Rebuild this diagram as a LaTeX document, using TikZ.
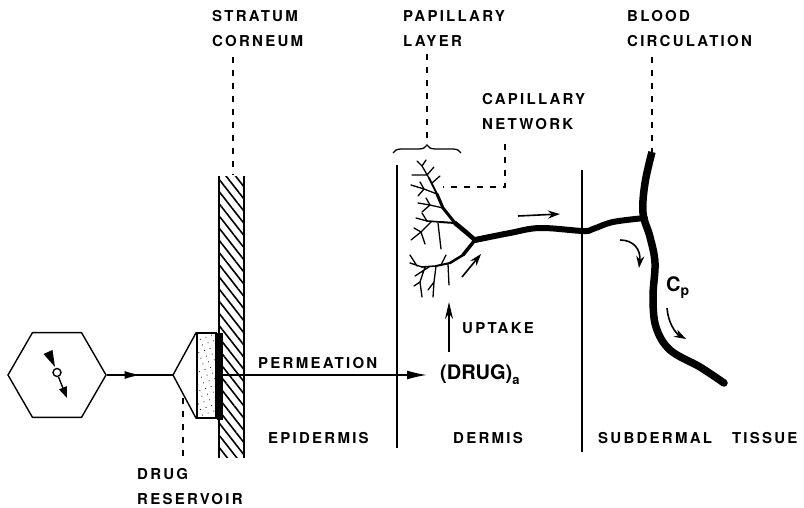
\documentclass[tikz,border=0pt]{standalone}
\usepackage{fontspec}
\setmainfont{TeX Gyre Heros}
\newfontfamily\capsfont{TeX Gyre Heros}[LetterSpace=15]
\usetikzlibrary{arrows.meta, positioning, shapes.geometric,
  decorations.pathreplacing, decorations.markings, patterns.meta}
\tikzset{
  lbl/.style={font=\capsfont\bfseries\fontsize{15}{25}\selectfont,
              inner sep=0pt, align=left},
  leader/.style={line width=1.3pt, dash pattern=on 6pt off 7pt},
  layer/.style={line width=2pt},
  vessel/.style={line width=6pt, line join=round},
  twig/.style={line width=1.3pt, line cap=round, line join=round},
  flow/.style={-{Stealth[length=12pt, width=8pt]}, line width=1.6pt},
}

\begin{document}
\begin{tikzpicture}[x=1pt, y=-1pt]
  \useasboundingbox (0,0) rectangle (804,508);

  % pump, reservoir and stratum corneum
  \node[regular polygon, regular polygon sides=6, draw, line width=1.4pt,
        minimum size=98pt, inner sep=0pt] (pump) at (57,375) {};
  \fill (43.5,354) -- (52.5,350) -- (55,367) -- cycle;
  \draw[line width=1.4pt, -{Triangle[length=11pt, width=8pt]}] (58.5,377) -- (67,398);
  \draw[line width=1.4pt, fill=white] (57,372.5) circle (4pt);

  \coordinate (tip) at (173,375);
  \node[minimum width=23pt, minimum height=280pt, inner sep=0pt,
        pattern={Lines[angle=-52, distance=7.5pt, line width=1.6pt]}] (sc) at (231.5,317) {};
  \draw[layer] (sc.north west) -- (sc.south west);
  \draw[layer] (sc.north east) -- (sc.south east);
  \node[draw, line width=1.4pt, pattern={Dots[distance=6pt, radius=0.55pt, angle=20]},
        minimum width=19pt, minimum height=85pt, inner sep=0pt] (res) at (206.5,375.5) {};
  \node[fill, minimum width=6pt, minimum height=87pt, inner sep=0pt,
        anchor=north west] (band) at (res.north east) {};
  \draw[line width=1.4pt] (res.north west) -- (tip) -- (res.south west);
  \draw[line width=1.4pt, postaction={decorate}, decoration={markings,
        mark=at position 0.51 with {\arrow{Latex[length=16pt, width=8pt]}}}] (pump.east) -- (tip);

  % layer boundaries
  \draw[layer] (397,165) -- (397,448);
  \draw[layer] (582,170) -- (582,452);

  % labels
  \node[lbl, anchor=north west] (stratum) at (212,10) {STRATUM\\CORNEUM};
  \node[lbl, anchor=north west] (papillary) at (403,10) {PAPILLARY\\LAYER};
  \node[lbl, anchor=north west] (capnet) at (482,93) {CAPILLARY\\NETWORK};
  \node[lbl, anchor=north west] (blood) at (627,10) {BLOOD\\CIRCULATION};
  \node[lbl, anchor=north west] (reservoir) at (137,468) {DRUG\\RESERVOIR};
  \node[lbl, anchor=west] (permeation) at (258,363) {PERMEATION};
  \node[lbl, anchor=west] (epidermis) at (268,438) {EPIDERMIS};
  \node[lbl, anchor=west] (dermis) at (453,438) {DERMIS};
  \node[lbl, anchor=west] (subdermal) at (598,438) {SUBDERMAL\hspace{20pt}TISSUE};
  \node[lbl, anchor=west] (uptake) at (462,328) {UPTAKE};
  \node[font=\bfseries\fontsize{20}{24}\selectfont, inner sep=0pt, anchor=west] (drug)
    at (440,375) {(DRUG)\raisebox{-5pt}{\fontsize{13}{13}\selectfont a}};
  \node[font=\bfseries\fontsize{20}{20}\selectfont, inner sep=0pt, anchor=west] (cp)
    at (666,288) {C\raisebox{-4pt}{\fontsize{14}{14}\selectfont p}};

  % leaders
  \coordinate (sc top) at (233,175);
  \coordinate (brace tip) at (427,144);
  \coordinate (cap bend) at (505,187);
  \coordinate (cap end) at (443,187);
  \coordinate (vessel top) at (652,152);
  \coordinate (res foot) at (183,398);
  \draw[line width=1.3pt, decorate, decoration={brace, amplitude=8pt}] (393,153) -- (461,153);
  \draw[leader, shorten <=10pt] (stratum.south -| sc top) -- (sc top);
  \draw[leader, shorten <=8pt] (papillary.south -| brace tip) -- (brace tip);
  \draw[leader, shorten <=14pt] (capnet.south -| cap bend) -- (cap bend) -- (cap end);
  \draw[leader, shorten <=10pt] (blood.south -| vessel top) -- (vessel top);
  \draw[leader, shorten >=10pt] (res foot) -- (res foot |- reservoir.north);

  % capillary tree
  \coordinate (J) at (475,240);
  \draw[twig, line width=4.5pt] (J) -- (467,233) -- (455,223);
  \draw[twig, line width=3pt] (455,223) -- (443,208) -- (437,194);
  \draw[twig, line width=2pt] (437,194) -- (429,178);
  \draw[twig] (429,178) -- (422,166) (422,166) -- (417,161) (422,166) -- (426,160)
    (427,175) -- (412,175) (427,175) -- (434,167) (437,194) -- (424,189) -- (411,185)
    (424,189) -- (418,196) (424,189) -- (420,182) (443,208) -- (430,205) -- (418,203)
    (430,205) -- (422,212) (430,205) -- (426,198) (432,183) -- (440,176);
  \draw[twig, line width=2pt] (455,223) -- (440,222);
  \draw[twig, line width=1.6pt] (440,222) -- (427,221);
  \draw[twig] (427,221) -- (416,218) (432,221) -- (421,232) -- (411,240)
    (421,232) -- (414,228) (421,232) -- (425,244) (438,223) -- (441,249)
    (427,221) -- (422,213);
  \draw[twig, line width=3.5pt] (J) -- (463,255);
  \draw[twig, line width=2.5pt] (463,255) -- (450,263);
  \draw[twig, line width=2pt] (450,263) -- (436,266);
  \draw[twig, line width=1.6pt] (436,266) -- (422,267);
  \draw[twig] (422,267) -- (410,263) (436,266) -- (434,282) -- (433,297) (434,282) -- (428,290)
    (448,264) -- (449,285) (425,267) -- (420,282) -- (422,297) (420,282) -- (414,286)
    (417,266) -- (410,255) (441,265) -- (446,255) (429,267) -- (415,276);

  % blood vessels
  \draw[vessel, line cap=round] plot[smooth, tension=0.6] coordinates
    {(J) (510,233) (540,228) (583,231) (593,229) (613,222) (645,218)};
  \draw[vessel, line width=7.5pt] plot[smooth, tension=0.6] coordinates
    {(vessel top) (645,183) (643,213) (650,237) (655,263) (653,297) (656,327)
     (670,350) (700,367) (724,383)};
  \fill (724,383) circle (3.75pt);

  % flow arrows
  \draw[flow] (518,216) -- (560,214);
  \draw[flow] (620,240) .. controls (634,240) and (641,250) .. (639,268);
  \draw[flow] (667,308) .. controls (668,322) and (675,333) .. (686,339);
  \draw[flow] (462,277) -- (481,254);
  \coordinate (up foot) at (449,352);
  \coordinate (up head) at (449,302);
  \draw[line width=1.5pt, -{Stealth[length=17pt, width=8pt]}] (up foot) -- (up head);
  \draw[line width=1.6pt, -{Latex[length=20pt, width=9pt]}, shorten >=13pt]
    (band.east |- drug.west) -- (drug.west);
\end{tikzpicture}
\end{document}
